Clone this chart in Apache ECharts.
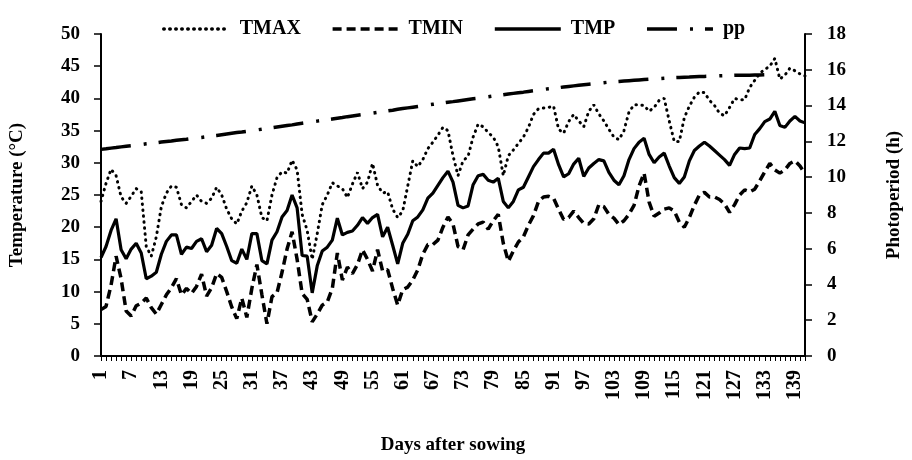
<!DOCTYPE html>
<html>
<head>
<meta charset="utf-8">
<script src="https://cdn.jsdelivr.net/npm/echarts@6/dist/echarts.min.js"></script>
<style>html,body{margin:0;padding:0;background:#fff;}#c{width:912px;height:460px;}</style>
</head>
<body>
<div id="c"></div>
<script>
// Days after sowing (categories)
const days = [];
for (let d = 1; d <= 141; d++) days.push(String(d));

const tmax = [
 24.0, 26.8, 29.0, 28.0, 24.7, 23.7, 24.8, 26.0, 25.5, 17.0,
 15.5, 18.5, 23.2, 25.3, 26.4, 26.2, 23.5, 23.0, 24.0, 25.0,
 24.0, 23.7, 24.5, 26.2, 25.0, 22.8, 21.3, 20.5, 22.5, 23.8,
 26.4, 25.0, 21.5, 21.0, 25.0, 27.7, 28.6, 28.4, 30.4, 28.9,
 22.0, 19.5, 15.0, 19.0, 23.5, 25.0, 26.9, 26.4, 26.0, 24.6,
 26.7, 28.5, 26.0, 27.0, 29.9, 26.5, 25.3, 25.5, 22.8, 21.5,
 22.5, 26.4, 30.3, 29.4, 30.5, 32.2, 33.2, 34.3, 35.5, 35.0,
 31.1, 28.0, 30.3, 31.0, 34.0, 36.0, 35.6, 34.7, 34.0, 32.5,
 28.0, 31.1, 32.0, 33.0, 34.0, 35.5, 37.5, 38.4, 38.5, 38.6,
 38.8, 35.2, 34.6, 36.4, 37.5, 36.5, 35.6, 38.0, 39.0, 37.6,
 36.5, 35.2, 34.0, 33.6, 35.0, 37.9, 39.0, 39.0, 38.9, 38.0,
 38.6, 39.7, 40.0, 36.5, 33.3, 33.3, 37.0, 38.8, 40.2, 41.0,
 40.9, 39.7, 38.9, 37.7, 37.3, 38.6, 40.0, 39.8, 39.8, 41.7,
 42.8, 43.9, 44.5, 45.0, 46.2, 43.0, 43.6, 44.7, 44.3, 43.8, 43.5
];

const tmin = [
 7.2, 7.7, 11.0, 15.5, 12.0, 7.0, 6.2, 7.8, 8.2, 9.0,
 7.5, 6.5, 8.0, 9.5, 10.6, 12.0, 9.5, 10.5, 9.7, 10.8,
 12.7, 9.3, 10.6, 12.8, 12.2, 10.0, 7.6, 5.8, 9.0, 6.0,
 10.5, 14.2, 9.5, 5.0, 9.2, 9.8, 13.0, 16.6, 19.3, 15.0,
 9.7, 8.8, 5.3, 6.5, 7.9, 8.4, 10.5, 16.0, 11.8, 13.8,
 12.8, 14.2, 16.5, 15.0, 13.2, 16.5, 13.2, 13.4, 10.5, 7.9,
 10.3, 10.7, 11.8, 13.4, 15.8, 17.3, 17.3, 18.0, 20.0, 21.6,
 20.5, 17.0, 16.5, 18.8, 19.7, 20.5, 20.8, 19.7, 21.0, 22.0,
 17.5, 14.7, 16.3, 17.7, 18.5, 20.3, 21.8, 24.0, 24.7, 24.8,
 24.5, 22.8, 21.2, 21.5, 22.5, 21.5, 20.6, 20.5, 21.3, 23.5,
 23.2, 22.0, 21.4, 20.4, 21.0, 22.0, 23.4, 26.4, 28.4, 23.9,
 21.7, 22.2, 22.8, 23.0, 22.5, 20.8, 20.0, 21.5, 23.4, 25.0,
 25.4, 24.7, 24.7, 24.3, 23.6, 22.3, 23.5, 25.0, 25.8, 25.5,
 25.9, 27.2, 28.6, 29.9, 28.9, 28.4, 28.9, 29.9, 30.3, 29.5, 28.3
];

const tmp = [
 15.3, 17.0, 19.5, 21.3, 16.5, 15.1, 16.6, 17.5, 16.0, 12.0,
 12.4, 13.0, 15.8, 17.8, 18.8, 18.8, 15.8, 16.9, 16.7, 17.8,
 18.2, 16.2, 17.2, 19.8, 19.0, 17.0, 14.8, 14.4, 16.6, 15.0,
 19.0, 19.0, 14.8, 14.3, 18.0, 19.3, 21.6, 22.6, 25.0, 23.0,
 15.6, 15.5, 9.8, 14.0, 16.3, 16.9, 18.0, 21.4, 18.8, 19.2,
 19.4, 20.3, 21.5, 20.6, 21.5, 22.0, 18.5, 20.0, 17.2, 14.3,
 17.5, 18.9, 21.0, 21.6, 22.7, 24.5, 25.3, 26.5, 27.7, 28.7,
 27.0, 23.4, 23.0, 23.3, 26.6, 28.0, 28.2, 27.3, 27.0, 27.6,
 24.0, 23.0, 24.0, 25.8, 26.2, 27.8, 29.4, 30.5, 31.5, 31.5,
 32.1, 29.7, 27.8, 28.3, 29.8, 30.7, 27.9, 29.2, 29.9, 30.5,
 30.3, 28.5, 27.3, 26.6, 28.0, 30.5, 32.2, 33.2, 33.8, 31.3,
 30.0, 30.9, 31.5, 29.5, 27.7, 26.8, 27.8, 30.3, 31.9, 32.6,
 33.2, 32.6, 31.9, 31.2, 30.5, 29.6, 31.3, 32.3, 32.2, 32.3,
 34.4, 35.3, 36.4, 36.8, 38.0, 35.8, 35.5, 36.5, 37.2, 36.5, 36.2
];

// Photoperiod (h), right axis
const pp = [
 11.55, 11.58, 11.62, 11.65, 11.69, 11.72, 11.75, 11.79, 11.82, 11.86,
 11.89, 11.92, 11.96, 11.99, 12.02, 12.06, 12.09, 12.12, 12.16, 12.19,
 12.22, 12.26, 12.30, 12.33, 12.37, 12.41, 12.45, 12.49, 12.52, 12.56,
 12.60, 12.64, 12.68, 12.72, 12.76, 12.80, 12.84, 12.88, 12.92, 12.97,
 13.01, 13.05, 13.09, 13.13, 13.17, 13.21, 13.25, 13.29, 13.33, 13.38,
 13.42, 13.46, 13.50, 13.54, 13.58, 13.62, 13.66, 13.70, 13.74, 13.79,
 13.83, 13.87, 13.91, 13.95, 13.99, 14.03, 14.07, 14.11, 14.15, 14.19,
 14.22, 14.26, 14.30, 14.34, 14.38, 14.41, 14.45, 14.49, 14.53, 14.56,
 14.60, 14.64, 14.68, 14.72, 14.75, 14.79, 14.83, 14.86, 14.90, 14.94,
 14.97, 15.00, 15.04, 15.07, 15.10, 15.13, 15.16, 15.19, 15.22, 15.25,
 15.28, 15.31, 15.33, 15.35, 15.37, 15.39, 15.41, 15.43, 15.45, 15.47,
 15.49, 15.51, 15.53, 15.55, 15.56, 15.57, 15.58, 15.59, 15.61, 15.62,
 15.63, 15.64, 15.65, 15.66, 15.67, 15.68, 15.69, 15.69, 15.70, 15.70,
 15.71, 15.71, 15.72, 15.72, 15.73
];

const FONT = 'Liberation Serif';
const chart = echarts.init(document.getElementById('c'), null, {renderer: 'canvas'});
const axisLabelStyle = {fontFamily: FONT, fontWeight: 'bold', fontSize: 19, color: '#000'};
const nameStyle = {fontFamily: FONT, fontWeight: 'bold', fontSize: 19, color: '#000'};

chart.setOption({
  animation: false,
  backgroundColor: '#fff',
  grid: {left: 101, right: 93, top: 34, bottom: 88, containLabel: false},
  legend: {
    top: 14, left: 157, itemWidth: 66, itemHeight: 14, itemGap: 30,
    itemStyle: {opacity: 0},
    lineStyle: {width: 3.5},
    textStyle: {fontFamily: FONT, fontWeight: 'bold', fontSize: 20, color: '#000', padding: [0, 0, 0, 5]},
    data: ['TMAX', 'TMIN', 'TMP', 'pp']
  },
  xAxis: {
    type: 'category', data: days, boundaryGap: false,
    name: 'Days after sowing', nameLocation: 'middle', nameGap: 80, nameTextStyle: nameStyle,
    axisLine: {lineStyle: {color: '#000', width: 2}},
    axisTick: {interval: 0, length: 5, lineStyle: {color: '#000', width: 1}},
    axisLabel: {interval: 5, rotate: 90, margin: 14, fontSize: 20, fontFamily: FONT, fontWeight: 'bold', color: '#000'},
    splitLine: {show: false}
  },
  yAxis: [{
    type: 'value', min: 0, max: 50, interval: 5, position: 'left',
    name: 'Temperature (°C)', nameLocation: 'middle', nameGap: 74, nameRotate: 90, nameTextStyle: nameStyle,
    axisLine: {show: true, lineStyle: {color: '#000', width: 2}},
    axisTick: {show: true, length: 7, lineStyle: {color: '#000', width: 1.5}},
    axisLabel: Object.assign({margin: 21}, axisLabelStyle),
    splitLine: {show: false}
  }, {
    type: 'value', min: 0, max: 18, interval: 2, position: 'right',
    name: 'Photoperiod (h)', nameLocation: 'middle', nameGap: 80, nameRotate: 90, nameTextStyle: nameStyle,
    axisLine: {show: true, lineStyle: {color: '#000', width: 2}},
    axisTick: {show: true, length: 7, lineStyle: {color: '#000', width: 1.5}},
    axisLabel: Object.assign({margin: 22}, axisLabelStyle),
    splitLine: {show: false}
  }],
  series: [{
    name: 'TMAX', type: 'line', data: tmax, yAxisIndex: 0, symbol: 'none', showSymbol: false,
    lineStyle: {color: '#000', width: 3, type: [0.5, 5.5], cap: 'round'}, itemStyle: {color: '#000'}
  }, {
    name: 'TMIN', type: 'line', data: tmin, yAxisIndex: 0, symbol: 'none', showSymbol: false,
    lineStyle: {color: '#000', width: 3.5, type: [9, 5]}, itemStyle: {color: '#000'}
  }, {
    name: 'TMP', type: 'line', data: tmp, yAxisIndex: 0, symbol: 'none', showSymbol: false,
    lineStyle: {color: '#000', width: 3.2, type: 'solid'}, itemStyle: {color: '#000'}
  }, {
    name: 'pp', type: 'line', data: pp, yAxisIndex: 1, symbol: 'none', showSymbol: false,
    lineStyle: {color: '#000', width: 3.5, type: [30, 13, 3, 12]}, itemStyle: {color: '#000'}
  }]
});
</script>
</body>
</html>
